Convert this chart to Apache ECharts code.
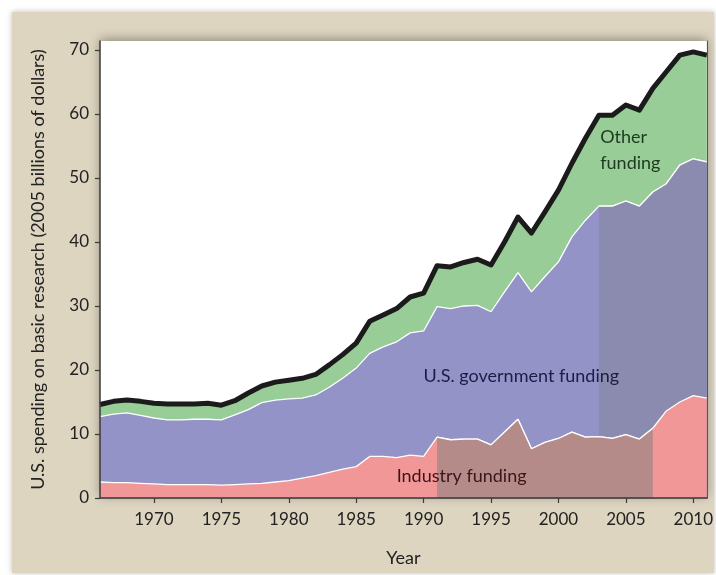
<!DOCTYPE html>
<html>
<head>
<meta charset="utf-8">
<script src="https://cdn.jsdelivr.net/npm/echarts@6.0.0/dist/echarts.min.js"></script>
<style>
  html, body { margin: 0; padding: 0; background: #fff; }
  #chart { width: 716px; height: 575px; }
</style>
</head>
<body>
<div id="chart"></div>
<script>
// years on the x axis
var years = [1966, 1967, 1968, 1969, 1970, 1971, 1972, 1973, 1974, 1975,
  1976, 1977, 1978, 1979, 1980, 1981, 1982, 1983, 1984, 1985,
  1986, 1987, 1988, 1989, 1990, 1991, 1992, 1993, 1994, 1995,
  1996, 1997, 1998, 1999, 2000, 2001, 2002, 2003, 2004, 2005,
  2006, 2007, 2008, 2009, 2010, 2011];

// billions of 2005 dollars, each layer on its own
var industryFunding = [2.5, 2.4, 2.4, 2.3, 2.2, 2.1, 2.1, 2.1, 2.1, 2.0,
  2.1, 2.2, 2.3, 2.5, 2.7, 3.1, 3.5, 4.0, 4.5, 4.9,
  6.5, 6.5, 6.3, 6.7, 6.5, 9.5, 9.1, 9.2, 9.2, 8.3,
  10.3, 12.3, 7.7, 8.7, 9.3, 10.3, 9.5, 9.6, 9.3, 9.9,
  9.2, 10.9, 13.6, 15.0, 16.0, 15.6];
var governmentFunding = [10.2, 10.7, 10.9, 10.6, 10.3, 10.1, 10.1, 10.2, 10.2, 10.2,
  10.9, 11.6, 12.6, 12.8, 12.8, 12.5, 12.6, 13.3, 14.2, 15.4,
  16.1, 17.1, 18.1, 19.1, 19.6, 20.4, 20.5, 20.8, 20.9, 20.8,
  21.9, 22.9, 24.5, 25.9, 27.6, 30.5, 33.9, 36.0, 36.3, 36.5,
  36.4, 36.9, 35.5, 37.0, 37.0, 36.9];
var otherFunding = [1.9, 2.0, 2.0, 2.2, 2.3, 2.5, 2.5, 2.4, 2.5, 2.3,
  2.2, 2.6, 2.6, 2.8, 2.9, 3.1, 3.2, 3.5, 3.7, 3.9,
  5.0, 5.0, 5.2, 5.6, 5.9, 6.4, 6.5, 6.8, 7.2, 7.3,
  7.8, 8.7, 9.2, 10.1, 11.2, 11.5, 12.8, 14.2, 14.2, 15.0,
  15.0, 16.2, 17.5, 17.2, 16.7, 16.7];

// shaded stretches of the two lower layers
var industryShade = [1991, 2007];
var governmentShade = [2003, 2011];

var xTicks = [1970, 1975, 1980, 1985, 1990, 1995, 2000, 2005, 2010];
var yTicks = [0, 10, 20, 30, 40, 50, 60, 70];

var FONT = 'Lato';
var BEIGE = '#ddd5c0';
var PINK = '#f29798', PINK_DARK = '#b48b89';
var BLUE = '#9393c7', BLUE_DARK = '#8b8bb0';
var GREEN = '#98cd98';

// running tops of the layers (areas are drawn from 0 and overlap)
var indTop = industryFunding.slice();
var govTop = industryFunding.map(function (v, i) { return +(v + governmentFunding[i]).toFixed(2); });
var allTop = govTop.map(function (v, i) { return +(v + otherFunding[i]).toFixed(2); });

function pairs(vals, range) {
  var out = [];
  years.forEach(function (y, i) {
    if (!range || (y >= range[0] && y <= range[1])) out.push([y, vals[i]]);
  });
  return out;
}

function area(name, vals, range, fill, line, z) {
  return {
    name: name, type: 'line', z: z, showSymbol: false, silent: true,
    data: pairs(vals, range),
    lineStyle: line,
    areaStyle: { color: fill, opacity: 1 }
  };
}

var chart = echarts.init(document.getElementById('chart'), null, { renderer: 'canvas' });

var frame = {
  type: 'rect', left: 12, top: 12, z: -10,
  shape: { width: 702, height: 561 },
  style: { fill: BEIGE, shadowBlur: 6, shadowColor: 'rgba(0,0,0,0.25)' }
};
var yearFmt = function (v) { return String(v); };

chart.setOption({
  animation: false,
  backgroundColor: '#fff',
  textStyle: { fontFamily: FONT },
  graphic: [frame],
  grid: {
    left: 100, top: 41, right: 7, bottom: 77,
    show: true, backgroundColor: '#fff', borderWidth: 0,
    shadowBlur: 10, shadowColor: 'rgba(0,0,0,0.35)', shadowOffsetY: -2
  },
  xAxis: [{
    type: 'value', min: 1966, max: 2011, z: 10,
    name: 'Year', nameLocation: 'middle', nameGap: 51,
    nameTextStyle: { fontSize: 18, color: '#222', fontFamily: FONT },
    axisLine: { lineStyle: { color: '#3a3a3a', width: 1.5 } },
    axisTick: { show: true, length: 5, customValues: xTicks, lineStyle: { color: '#3a3a3a', width: 1.2 } },
    axisLabel: { customValues: xTicks, formatter: yearFmt, margin: 13, fontSize: 17, color: '#222', fontFamily: FONT },
    splitLine: { show: false }
  }, {
    type: 'value', min: 1966, max: 2011, position: 'top', z: 10,
    axisLine: { lineStyle: { color: '#555', width: 1 } },
    axisTick: { show: false }, axisLabel: { show: false }, splitLine: { show: false }
  }],
  yAxis: [{
    type: 'value', min: 0, max: 71.4, z: 10,
    name: 'U.S. spending on basic research (2005 billions of dollars)',
    nameLocation: 'middle', nameGap: 53,
    nameTextStyle: { fontSize: 18, color: '#222', fontFamily: FONT },
    axisLine: { show: true, lineStyle: { color: '#3a3a3a', width: 1.5 } },
    axisTick: { show: true, length: 5, customValues: yTicks, lineStyle: { color: '#3a3a3a', width: 1.2 } },
    axisLabel: { customValues: yTicks, margin: 11, fontSize: 17, color: '#222', fontFamily: FONT },
    splitLine: { show: false }
  }, {
    type: 'value', min: 0, max: 71.4, position: 'right', z: 10,
    axisLine: { show: true, lineStyle: { color: '#555', width: 1 } },
    axisTick: { show: false }, axisLabel: { show: false }, splitLine: { show: false }
  }],
  series: [
    area('Other funding', allTop, null, GREEN, { color: '#1b1b1b', width: 5, join: 'round' }, 1),
    area('U.S. government funding', govTop, null, BLUE, { color: '#fff', width: 1.3 }, 2),
    area('U.S. government funding (shaded)', govTop, governmentShade, BLUE_DARK, { color: '#fff', width: 1.3 }, 3),
    area('Industry funding', indTop, null, PINK, { color: '#fff', width: 1.3 }, 4),
    area('Industry funding (shaded)', indTop, industryShade, PINK_DARK, { color: '#fff', width: 1.3 }, 5)
  ]
});

// layer labels, anchored at data coordinates
function at(x, y) { return chart.convertToPixel({ gridIndex: 0 }, [x, y]); }
var pOther = at(2003.1, 58.4);
var pGov = at(1990.0, 19.0);
var pInd = at(1988.0, 3.4);
chart.setOption({
  graphic: [frame, {
    type: 'text', x: pOther[0], y: pOther[1], z: 20,
    style: { text: 'Other\nfunding', fill: '#1d3a20', font: '18px ' + FONT, lineHeight: 26, verticalAlign: 'top' }
  }, {
    type: 'text', x: pGov[0], y: pGov[1], z: 20,
    style: { text: 'U.S. government funding', fill: '#1c1d45', font: '18px ' + FONT, verticalAlign: 'middle' }
  }, {
    type: 'text', x: pInd[0], y: pInd[1], z: 20,
    style: { text: 'Industry funding', fill: '#3a1519', font: '18px ' + FONT, verticalAlign: 'middle' }
  }]
});
</script>
</body>
</html>
